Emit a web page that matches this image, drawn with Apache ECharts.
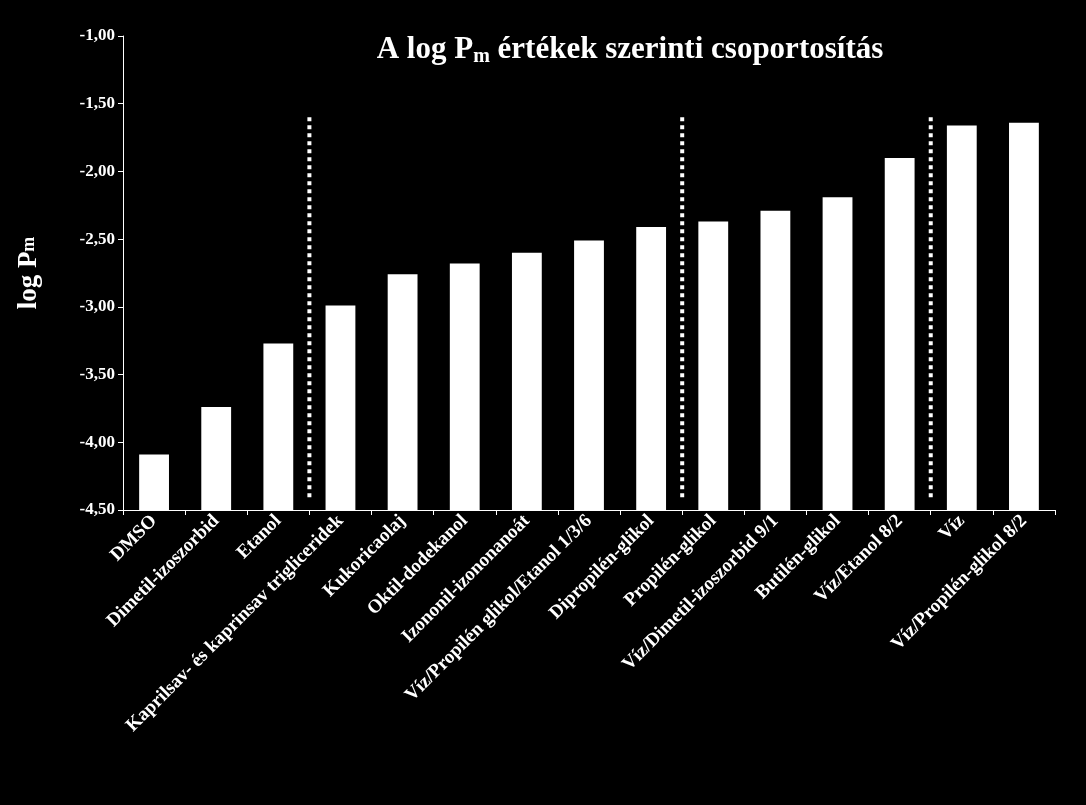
<!DOCTYPE html>
<html>
<head>
<meta charset="utf-8">
<script src="https://cdn.jsdelivr.net/npm/echarts@6/dist/echarts.min.js"></script>
<style>
  html, body { margin: 0; padding: 0; background: #000; }
  #chart { width: 1086px; height: 805px; }
</style>
</head>
<body>
<div id="chart"></div>
<script>
const categories = [
  "DMSO", "Dimetil-izoszorbid", "Etanol", "Kaprilsav- és kaprinsav trigliceridek",
  "Kukoricaolaj", "Oktil-dodekanol", "Izononil-izononanoát", "Víz/Propilén glikol/Etanol 1/3/6",
  "Dipropilén-glikol", "Propilén-glikol", "Víz/Dimetil-izoszorbid 9/1", "Butilén-glikol",
  "Víz/Etanol 8/2", "Víz", "Víz/Propilén-glikol 8/2"
];
const logPm = [-4.09, -3.74, -3.27, -2.99, -2.76, -2.68, -2.60, -2.51,
  -2.41, -2.37, -2.29, -2.19, -1.90, -1.66, -1.64];
const barBase = -4.5;
// group dividers: position between categories, and vertical extent
const dividerPositions = [3, 9, 13];
const dividerTop = -1.6;
const dividerBottom = -4.42;

const font = "'Liberation Serif', 'Times New Roman', serif";
const chart = echarts.init(document.getElementById("chart"));

const dividerSeries = dividerPositions.map((p) => ({
  type: "line",
  xAxisIndex: 1,
  data: [[p, dividerTop], [p, dividerBottom]],
  symbol: "none",
  lineStyle: { color: "#fff", width: 4, type: [4, 4] },
  silent: true,
}));

chart.setOption({
  backgroundColor: "#000",
  animation: false,
  title: {
    text: "A log P{sub|m} értékek szerinti csoportosítás",
    left: 625,
    top: 28,
    textAlign: "center",
    textStyle: {
      color: "#fff", fontFamily: font, fontWeight: "bold", fontSize: 31,
      rich: { sub: { color: "#fff", fontFamily: font, fontWeight: "bold", fontSize: 20, padding: [14, 0, 0, 0] } },
    },
  },
  grid: { left: 123, right: 31, top: 36, bottom: 295 },
  xAxis: [
    {
      type: "category",
      data: categories,
      axisLine: { lineStyle: { color: "#fff", width: 1 } },
      axisTick: { show: true, lineStyle: { color: "#fff" }, length: 5 },
      axisLabel: {
        color: "#fff", fontFamily: font, fontWeight: "bold", fontSize: 19,
        rotate: 45, interval: 0, margin: 8,
      },
    },
    { type: "value", min: 0, max: 15, show: false },
  ],
  yAxis: {
    type: "value",
    min: -4.5, max: -1.0, interval: 0.5,
    name: "log P{sub|m}",
    nameLocation: "middle",
    nameGap: 80,
    nameRotate: 90,
    nameTextStyle: {
      color: "#fff", fontFamily: font, fontWeight: "bold", fontSize: 27,
      rich: { sub: { color: "#fff", fontFamily: font, fontWeight: "bold", fontSize: 18 } },
    },
    axisLine: { show: true, lineStyle: { color: "#fff", width: 1 } },
    axisTick: { show: true, inside: false, length: 5, lineStyle: { color: "#fff" } },
    splitLine: { show: false },
    axisLabel: {
      color: "#fff", fontFamily: font, fontWeight: "bold", fontSize: 17,
      formatter: (v) => v.toFixed(2).replace(".", ","),
    },
  },
  series: [
    {
      type: "custom",
      data: logPm.map((v, i) => [i, v]),
      encode: { x: 0, y: 1 },
      renderItem: (params, api) => {
        const top = api.coord([api.value(0), api.value(1)]);
        const bottom = api.coord([api.value(0), barBase]);
        const w = api.size([1, 0])[0] * 0.48;
        return {
          type: "rect",
          shape: { x: top[0] - w / 2, y: top[1], width: w, height: bottom[1] - top[1] },
          style: { fill: "#fff" },
        };
      },
    },
    ...dividerSeries,
  ],
});
</script>
</body>
</html>
